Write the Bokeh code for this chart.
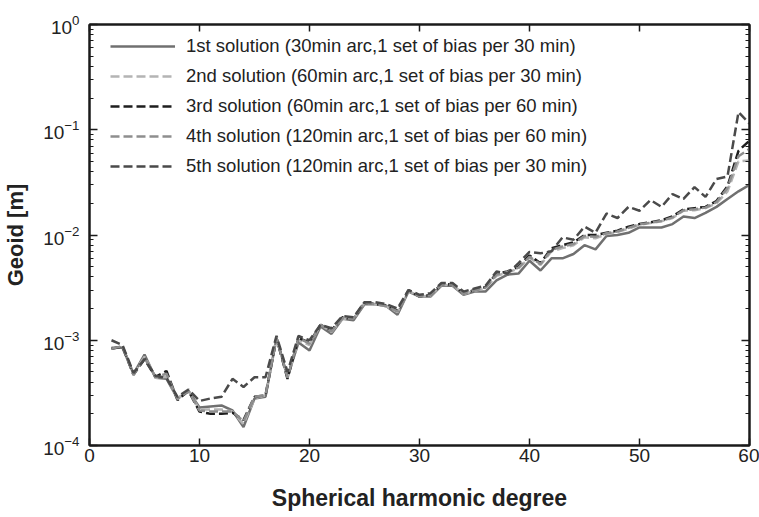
from bokeh.plotting import figure
from bokeh.models import (LogAxis, LinearAxis, FixedTicker, Legend, LegendItem, Range1d,
                          CustomJSTickFormatter)
from bokeh.embed import file_html
from bokeh.resources import INLINE

degree = list(range(2, 61))

sol1 = [8.5e-4, 8.5e-4, 4.8e-4, 7.3e-4, 4.4e-4, 4.3e-4, 2.8e-4, 3.3e-4, 2.3e-4, 2.35e-4,
        2.4e-4, 2.15e-4, 1.5e-4, 2.8e-4, 2.9e-4, 1.05e-3, 4.5e-4, 9.5e-4, 8.0e-4, 1.35e-3,
        1.15e-3, 1.6e-3, 1.55e-3, 2.2e-3, 2.2e-3, 2.1e-3, 1.75e-3, 2.9e-3, 2.6e-3, 2.6e-3,
        3.3e-3, 3.3e-3, 2.7e-3, 2.9e-3, 2.9e-3, 3.7e-3, 4.2e-3, 4.3e-3, 5.7e-3, 4.6e-3,
        6.0e-3, 6.0e-3, 6.6e-3, 8.0e-3, 7.3e-3, 9.8e-3, 1.0e-2, 1.05e-2, 1.18e-2, 1.18e-2,
        1.18e-2, 1.27e-2, 1.5e-2, 1.45e-2, 1.62e-2, 1.85e-2, 2.2e-2, 2.6e-2, 3.0e-2]

sol2 = [8.4e-4, 8.6e-4, 4.8e-4, 7.0e-4, 4.4e-4, 4.5e-4, 2.8e-4, 3.3e-4, 2.2e-4, 2.2e-4,
        2.2e-4, 2.1e-4, 1.6e-4, 2.8e-4, 3.0e-4, 1.05e-3, 4.4e-4, 1.0e-3, 9.0e-4, 1.4e-3,
        1.2e-3, 1.6e-3, 1.6e-3, 2.25e-3, 2.2e-3, 2.1e-3, 1.85e-3, 2.95e-3, 2.6e-3, 2.65e-3,
        3.35e-3, 3.35e-3, 2.75e-3, 2.95e-3, 3.1e-3, 4.1e-3, 4.4e-3, 4.8e-3, 6.1e-3, 5.2e-3,
        7.0e-3, 7.5e-3, 8.0e-3, 9.5e-3, 9.3e-3, 1.02e-2, 1.07e-2, 1.15e-2, 1.25e-2, 1.3e-2,
        1.35e-2, 1.45e-2, 1.7e-2, 1.72e-2, 1.8e-2, 2.0e-2, 2.6e-2, 5.0e-2, 5.1e-2]

sol3 = [8.3e-4, 8.7e-4, 4.7e-4, 6.6e-4, 4.5e-4, 5.1e-4, 2.7e-4, 3.3e-4, 2.1e-4, 2.0e-4,
        2.0e-4, 2.05e-4, 1.75e-4, 2.9e-4, 3.0e-4, 1.05e-3, 4.3e-4, 1.05e-3, 9.5e-4, 1.4e-3,
        1.25e-3, 1.65e-3, 1.6e-3, 2.3e-3, 2.2e-3, 2.15e-3, 1.9e-3, 3.0e-3, 2.6e-3, 2.7e-3,
        3.4e-3, 3.4e-3, 2.8e-3, 3.0e-3, 3.2e-3, 4.3e-3, 4.5e-3, 5.0e-3, 6.4e-3, 5.4e-3,
        7.5e-3, 8.0e-3, 8.5e-3, 1.0e-2, 1.0e-2, 1.05e-2, 1.1e-2, 1.2e-2, 1.27e-2, 1.32e-2,
        1.38e-2, 1.5e-2, 1.75e-2, 1.8e-2, 1.85e-2, 2.1e-2, 2.9e-2, 6.3e-2, 7.9e-2]

sol4 = [8.3e-4, 8.8e-4, 4.7e-4, 6.8e-4, 4.5e-4, 4.8e-4, 2.75e-4, 3.3e-4, 2.15e-4, 2.1e-4,
        2.1e-4, 2.1e-4, 1.7e-4, 2.9e-4, 3.0e-4, 1.05e-3, 4.4e-4, 1.05e-3, 9.3e-4, 1.4e-3,
        1.22e-3, 1.62e-3, 1.6e-3, 2.28e-3, 2.2e-3, 2.12e-3, 1.88e-3, 2.98e-3, 2.6e-3, 2.68e-3,
        3.38e-3, 3.38e-3, 2.78e-3, 2.98e-3, 3.15e-3, 4.2e-3, 4.45e-3, 4.9e-3, 6.2e-3, 5.3e-3,
        7.2e-3, 7.8e-3, 8.2e-3, 9.8e-3, 9.6e-3, 1.04e-2, 1.08e-2, 1.17e-2, 1.26e-2, 1.31e-2,
        1.36e-2, 1.47e-2, 1.72e-2, 1.76e-2, 1.82e-2, 2.05e-2, 2.8e-2, 5.6e-2, 6.6e-2]

sol5 = [1.0e-3, 9.0e-4, 4.9e-4, 6.6e-4, 4.6e-4, 4.4e-4, 2.9e-4, 3.4e-4, 2.65e-4, 2.8e-4,
        2.9e-4, 4.3e-4, 3.6e-4, 4.45e-4, 4.45e-4, 1.1e-3, 5.0e-4, 1.1e-3, 1.0e-3, 1.4e-3,
        1.3e-3, 1.7e-3, 1.65e-3, 2.3e-3, 2.3e-3, 2.2e-3, 2.0e-3, 3.0e-3, 2.7e-3, 2.8e-3,
        3.5e-3, 3.5e-3, 2.9e-3, 3.1e-3, 3.3e-3, 4.5e-3, 4.3e-3, 5.4e-3, 6.9e-3, 6.7e-3,
        7.0e-3, 9.5e-3, 9.0e-3, 1.2e-2, 1.05e-2, 1.6e-2, 1.45e-2, 1.85e-2, 1.7e-2, 2.15e-2,
        1.85e-2, 2.45e-2, 2.2e-2, 2.85e-2, 2.3e-2, 3.4e-2, 3.6e-2, 0.147, 0.114]

labels = [
    "1st solution (30min arc,1 set of bias per 30 min)",
    "2nd solution (60min arc,1 set of bias per 30 min)",
    "3rd solution (60min arc,1 set of bias per 60 min)",
    "4th solution (120min arc,1 set of bias per 60 min)",
    "5th solution (120min arc,1 set of bias per 30 min)",
]
x_ticks = [0, 10, 20, 30, 40, 50, 60]
y_ticks = [1e-4, 1e-3, 1e-2, 1e-1, 1.0]
y_minor = [k * 10.0 ** e for e in range(-4, 0) for k in range(2, 10)]

series = [sol1, sol2, sol3, sol4, sol5]
colors = ["#707070", "#b4b4b4", "#1e1e1e", "#8e8e8e", "#4a4a4a"]
dashes = ["solid", "9 4", "9 4", "9 4", "9 4"]

FONT = "Liberation Sans"
INK = "#1a1a1a"

p = figure(frame_width=660, frame_height=421,
           x_range=Range1d(0, 60), y_range=Range1d(1e-4, 1),
           y_axis_type="log", output_backend="svg", toolbar_location=None,
           min_border_left=86, min_border_right=10, min_border_top=24, min_border_bottom=70,
           background_fill_color="white", border_fill_color="white")
p.grid.visible = False
p.outline_line_color = INK
p.outline_line_width = 2

renderers = []
for ys, c, d in zip(series, colors, dashes):
    r = p.line(degree, ys, line_color=c, line_width=2.5, line_dash=d)
    renderers.append(r)

xa = p.xaxis[0]
xa.ticker = FixedTicker(ticks=x_ticks)
xa.major_tick_in = 7
xa.major_tick_out = 0
xa.minor_tick_in = 0
xa.minor_tick_out = 0
xa.axis_line_width = 2
xa.axis_line_color = INK
xa.major_tick_line_color = INK
xa.major_tick_line_width = 1.5
xa.major_label_text_font = FONT
xa.major_label_text_font_size = "19px"
xa.major_label_text_color = "#222222"
xa.major_label_standoff = 3
xa.axis_label = "Spherical harmonic degree"
xa.axis_label_text_font = FONT
xa.axis_label_text_font_style = "bold"
xa.axis_label_text_font_size = "23px"
xa.axis_label_text_color = "#222222"
xa.axis_label_standoff = 20

ya = p.yaxis[0]
ya.ticker = FixedTicker(ticks=y_ticks, minor_ticks=y_minor)
ya.major_tick_in = 8
ya.major_tick_out = 0
ya.minor_tick_in = 4
ya.minor_tick_out = 0
ya.axis_line_width = 2
ya.axis_line_color = INK
ya.major_tick_line_color = INK
ya.minor_tick_line_color = INK
ya.major_tick_line_width = 1.5
ya.minor_tick_line_width = 1.2
ya.major_label_text_font = FONT
ya.major_label_text_font_size = "19px"
ya.major_label_text_color = "#222222"
ya.major_label_standoff = 10
ya.axis_label = "Geoid [m]"
ya.axis_label_text_font = FONT
ya.axis_label_text_font_style = "bold"
ya.axis_label_text_font_size = "22px"
ya.axis_label_text_color = "#222222"
ya.axis_label_standoff = 12

blank = CustomJSTickFormatter(code="return ''")

ra = LogAxis(ticker=FixedTicker(ticks=y_ticks, minor_ticks=y_minor), formatter=blank,
             major_tick_in=8, major_tick_out=0, minor_tick_in=4, minor_tick_out=0,
             axis_line_width=2, axis_line_color=INK,
             major_tick_line_color=INK, minor_tick_line_color=INK,
             major_tick_line_width=1.5, minor_tick_line_width=1.2,
             major_label_text_font_size="8px", major_label_standoff=0)
p.add_layout(ra, "right")

ta = LinearAxis(ticker=FixedTicker(ticks=x_ticks), formatter=blank,
                major_tick_in=7, major_tick_out=0, minor_tick_in=0, minor_tick_out=0,
                axis_line_width=2, axis_line_color=INK,
                major_tick_line_color=INK, major_tick_line_width=1.5,
                major_label_text_font_size="8px", major_label_standoff=0)
p.add_layout(ta, "above")

items = [LegendItem(label=lab, renderers=[r]) for lab, r in zip(labels, renderers)]
legend = Legend(items=items, location=(21, 268),
                background_fill_alpha=0, border_line_alpha=0,
                padding=0, margin=0, spacing=8,
                label_height=20, glyph_height=20, glyph_width=65, label_standoff=11,
                label_text_font=FONT, label_text_font_size="18.5px",
                label_text_color="#222222")
p.add_layout(legend)

open("out.html", "w").write(file_html(p, INLINE))
